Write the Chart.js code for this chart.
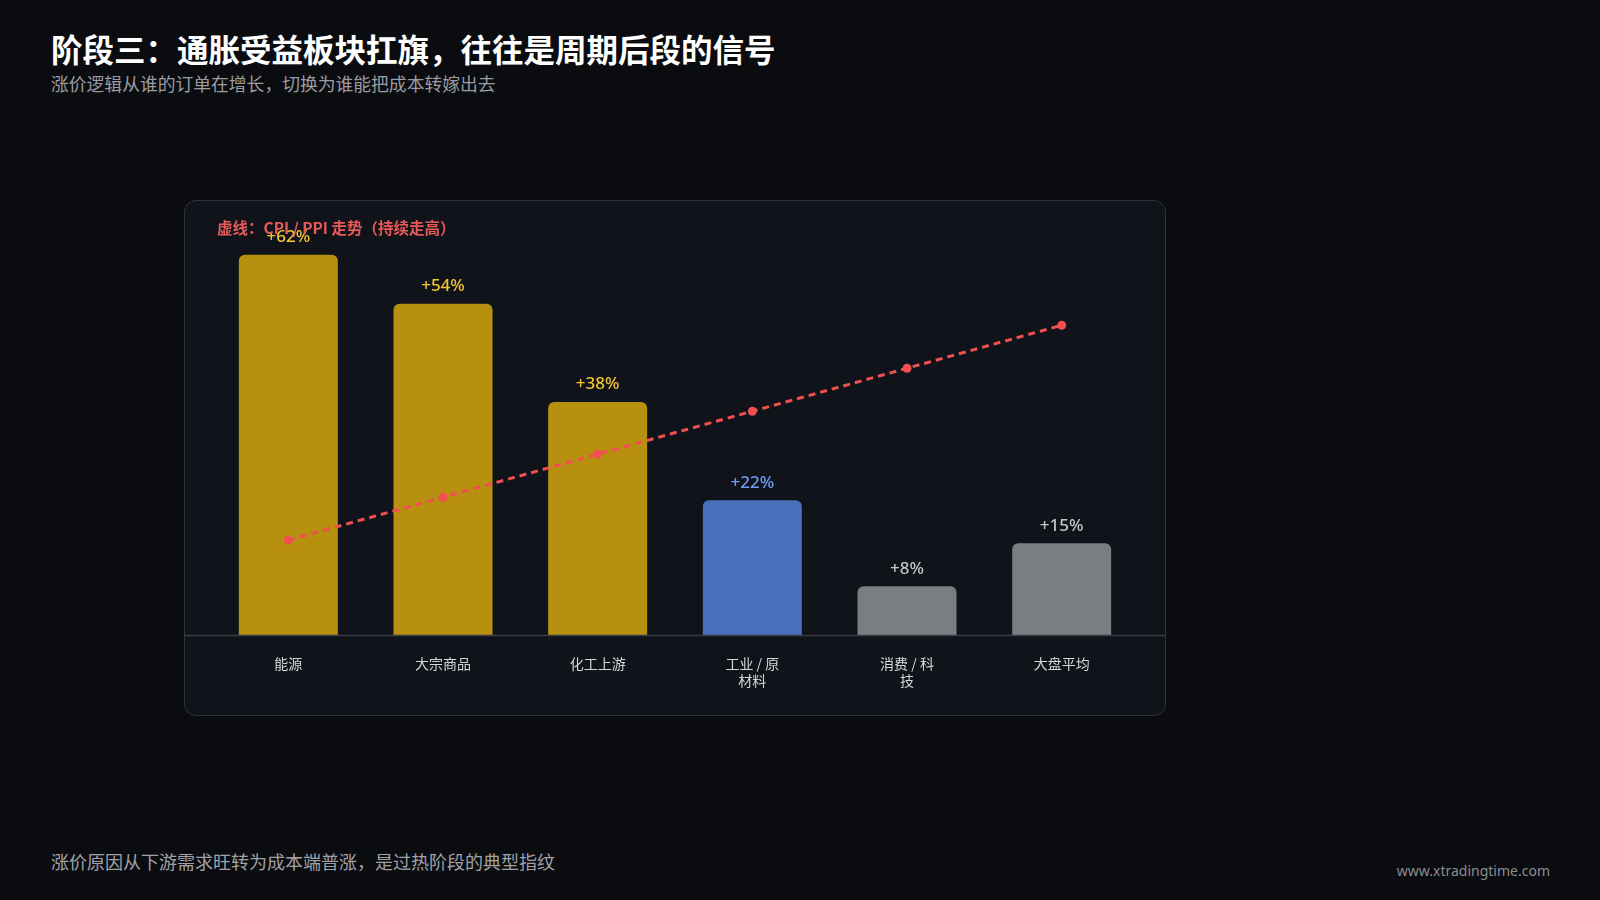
<!DOCTYPE html>
<html><head><meta charset="utf-8">
<script src="https://cdn.jsdelivr.net/npm/chart.js@4"></script>
<style>
body{margin:0;width:1600px;height:900px;background:#0b0c10;font-family:"Noto Sans CJK SC","Noto Sans",sans-serif;position:relative;overflow:hidden}
.t{position:absolute;left:51px;top:25px;color:#fff;font-size:31.5px;font-weight:700}
.s{position:absolute;left:51px;top:70px;color:#9a9ca2;font-size:17.8px}
.f{position:absolute;left:51px;top:848px;color:#a0a2a8;font-size:18px}
.w{position:absolute;right:50px;top:861px;color:#8a8c92;font-size:14px;font-family:"Noto Sans",sans-serif}
.card{position:absolute;left:184px;top:200px;width:982px;height:516px;background:#10131a;border:1px solid #30333b;border-radius:12px;box-sizing:border-box;overflow:hidden}
.lg{position:absolute;left:32px;top:15px;color:#e85a5a;font-size:15.5px;font-weight:600;z-index:2}
#c{position:absolute;left:0;top:0}
</style></head><body>
<div class="t">阶段三：通胀受益板块扛旗，往往是周期后段的信号</div>
<div class="s">涨价逻辑从谁的订单在增长，切换为谁能把成本转嫁出去</div>
<div class="card"><div class="lg">虚线：CPI / PPI 走势（持续走高）</div><canvas id="c" width="980" height="514"></canvas></div>
<div class="f">涨价原因从下游需求旺转为成本端普涨，是过热阶段的典型指纹</div>
<div class="w">www.xtradingtime.com</div>
<script>
const categories=[["能源"],["大宗商品"],["化工上游"],["工业 / 原","材料"],["消费 / 科","技"],["大盘平均"]];
const barValues=[62,54,38,22,8,15];
const lineValues=[15.5,22.5,29.5,36.5,43.5,50.5];
const barColors=["#b8900f","#b8900f","#b8900f","#4a70bb","#7a7d82","#7a7d82"];
const labelColors=["#f2c436","#f2c436","#f2c436","#6f9cf2","#c4c6ca","#c4c6ca"];
const plug={id:'p',afterDatasetsDraw(ch){
 const ctx=ch.ctx;const y0=ch.scales.y.getPixelForValue(0);
 ctx.save();ctx.strokeStyle='#3a3d45';ctx.lineWidth=1.5;ctx.beginPath();ctx.moveTo(0,y0);ctx.lineTo(ch.width,y0);ctx.stroke();
 const m=ch.getDatasetMeta(1);
 ctx.font='500 17px "Noto Sans",sans-serif';ctx.textAlign='center';ctx.textBaseline='bottom';
 m.data.forEach((b,i)=>{ctx.fillStyle=labelColors[i];ctx.fillText('+'+barValues[i]+'%',b.x,b.y-9);});
 ctx.restore();}};
new Chart(document.getElementById('c'),{
 data:{labels:categories,datasets:[
  {type:'line',data:lineValues,borderColor:'#f05050',borderDash:[7,5],borderWidth:3,pointRadius:4.5,pointBackgroundColor:'#f05050',pointBorderWidth:0,order:0},
  {type:'bar',data:barValues,backgroundColor:barColors,borderRadius:{topLeft:6,topRight:6},borderSkipped:'bottom',barPercentage:0.64,categoryPercentage:1,order:1}]},
 options:{responsive:false,animation:false,devicePixelRatio:1,
  layout:{padding:{left:26,right:26,top:0,bottom:14}},
  plugins:{legend:{display:false},tooltip:{enabled:false}},
  scales:{x:{grid:{display:false},border:{display:false},ticks:{color:'#d4d6da',font:{size:14,family:'"Noto Sans CJK SC"'},padding:12,maxRotation:0}},
   y:{min:0,max:70,display:false}}},
 plugins:[plug]});
</script></body></html>
